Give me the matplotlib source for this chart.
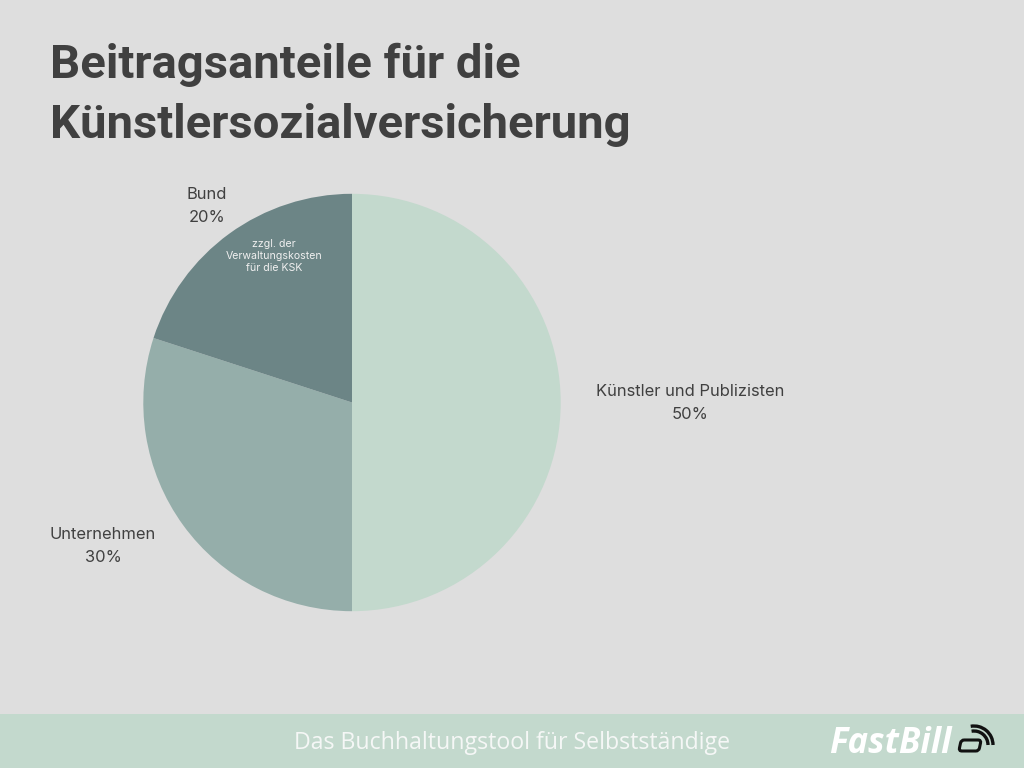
#!/usr/bin/env python3
"""Beitragsanteile fuer die Kuenstlersozialversicherung - pie chart"""

import matplotlib
matplotlib.use('Agg')
import matplotlib.pyplot as plt
from matplotlib.patches import Arc, FancyBboxPatch, Rectangle
from matplotlib.transforms import Affine2D

# Data
categories = ['Künstler und Publizisten', 'Unternehmen', 'Bund']
shares = [50, 30, 20]
colors = ['#C3D9CD', '#95AEAA', '#6C8586']

title_lines = ['Beitragsanteile für die', 'Künstlersozialversicherung']
slice_note = 'zzgl. der\nVerwaltungskosten\nfür die KSK'
footer_text = 'Das Buchhaltungstool für Selbstständige'
logo_text = 'FastBill'

BG = '#DEDEDE'
DARK = '#404040'


def y_px(y):
    """Pixel row counted from the top, to axis coordinates"""
    return 768 - y


fig = plt.figure(figsize=(10.24, 7.68), dpi=100, facecolor=BG)
ax = fig.add_axes([0, 0, 1, 1])

# Pie
ax.pie(shares, colors=colors, startangle=90, counterclock=False,
       center=(352, y_px(402.5)), radius=208.7, frame=True)
ax.set_xlim(0, 1024)
ax.set_ylim(0, 768)
ax.axis('off')

# Title
ax.text(50, y_px(65), title_lines[0], fontsize=34, fontweight='bold', family='Roboto',
        color=DARK, ha='left', va='center')
ax.text(50, y_px(125), title_lines[1], fontsize=34, fontweight='bold', family='Roboto',
        color=DARK, ha='left', va='center')

# Slice labels
label_pos = [(690, 403), (103, 546), (207, 206)]
for cat, share, (x, y) in zip(categories, shares, label_pos):
    ax.text(x, y_px(y), f'{cat}\n{share}%', fontsize=11.9, family='Inter', color=DARK,
            ha='center', va='center', linespacing=1.63)

ax.text(274, y_px(256), slice_note, fontsize=7.6, family='Inter', color='#F0F0F0',
        ha='center', va='center', linespacing=1.3)

# Footer band
ax.add_patch(Rectangle((0, 0), 1024, y_px(714), facecolor=colors[0], edgecolor='none'))
ax.text(512, y_px(743), footer_text, fontsize=16.7, family='Open Sans', color='#F5F7F6',
        ha='center', va='center')

# Logo
ax.text(829, y_px(744), logo_text, fontsize=25, fontweight='bold', style='italic',
        family='Open Sans', color='white', ha='left', va='center')
icon_skew = Affine2D().translate(-970, -y_px(745.5)).skew_deg(12, 0).translate(970, y_px(745.5))
ax.add_patch(FancyBboxPatch((960, y_px(751)), 20, 11,
                            boxstyle='round,pad=0,rounding_size=3',
                            facecolor='none', edgecolor='#111111', linewidth=2.2,
                            transform=icon_skew + ax.transData))
for size in [28, 38]:
    ax.add_patch(Arc((974, y_px(745)), size, size, theta1=0, theta2=100,
                     color='#111111', linewidth=2.4))

fig.savefig('out.png', dpi=100, facecolor=BG)
